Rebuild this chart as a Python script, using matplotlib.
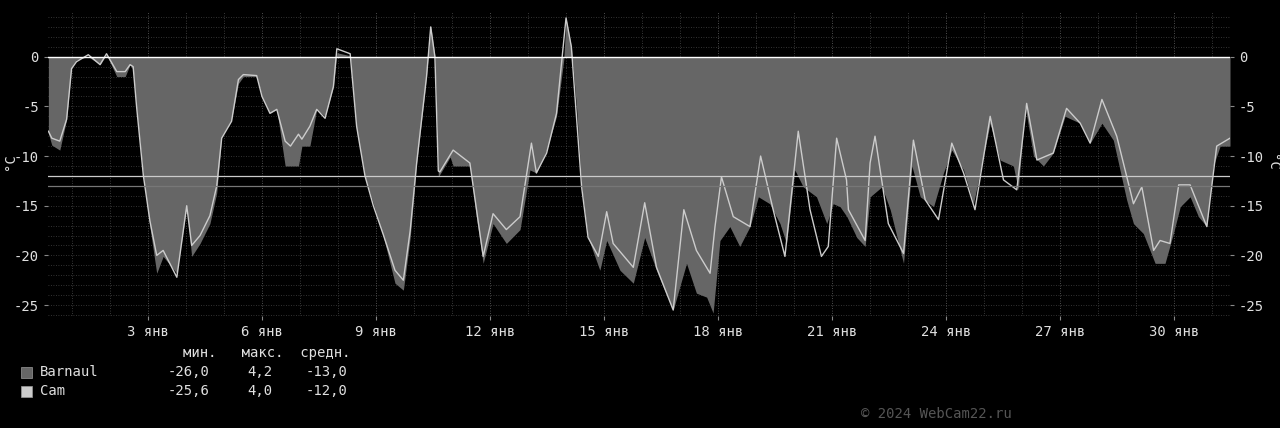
import matplotlib
matplotlib.use("Agg")
import matplotlib.pyplot as plt
import numpy as np

barnaul_t = [0.38,0.47,0.68,0.86,0.99,1.12,1.43,1.74,1.91,2.18,2.40,2.53,2.61,2.70,2.88,3.05,3.23,3.40,3.76,4.02,4.15,4.37,4.63,4.81,4.94,5.20,5.38,5.51,5.86,6.00,6.21,6.39,6.61,6.96,7.05,7.26,7.44,7.66,7.88,7.97,8.32,8.49,8.71,8.93,9.20,9.50,9.72,9.90,10.07,10.33,10.44,10.55,10.64,10.95,
             11.03,11.47,11.64,11.82,12.08,12.43,12.79,13.05,13.22,13.49,13.75,13.94,14.0,14.14,14.28,14.41,14.58,14.89,15.07,15.42,15.77,16.07,16.38,16.56,16.82,16.99,17.17,17.43,17.70,17.87,18.05,18.31,18.57,18.84,19.06,19.36,19.63,19.80,20.02,20.24,20.59,20.86,21.03,21.21,21.39,21.65,21.87,
             22.0,22.31,22.53,22.88,23.10,23.32,23.67,23.93,24.15,24.46,24.72,25.16,25.42,25.77,25.90,26.08,26.30,26.56,26.82,27.13,27.53,27.79,28.10,28.40,28.75,28.93,29.19,29.50,29.76,29.98,30.16,30.42,30.64,30.86,31.03,31.21,31.47]
barnaul_v = [-7.7,-8.9,-9.4,-6.3,-1.0,-0.3,0.0,-0.8,0.2,-2.0,-2.0,-0.8,-1.3,-5.3,-12.1,-17.1,-21.8,-20.1,-21.8,-15.1,-20.1,-18.8,-16.8,-13.7,-8.0,-6.3,-2.7,-2.0,-2.0,-4.0,-5.7,-5.3,-11.0,-11.0,-9.0,-9.0,-5.3,-6.0,-3.0,0.4,0.1,-7.4,-12.1,-14.8,-18.2,-22.8,-23.5,-18.2,-10.7,-2.0,3.1,0.1,-12.1,-10.1,
             -11.0,-11.0,-16.1,-20.8,-16.8,-18.8,-17.4,-11.4,-11.7,-9.4,-6.0,-0.3,3.9,1.0,-5.3,-13.1,-18.2,-21.5,-18.5,-21.5,-22.8,-18.2,-21.5,-23.2,-25.5,-23.2,-20.8,-23.8,-24.2,-25.8,-18.5,-17.1,-19.1,-17.1,-14.1,-14.8,-16.8,-18.8,-11.4,-13.1,-14.1,-16.8,-14.8,-15.1,-16.1,-18.2,-19.1,
             -14.1,-13.1,-15.4,-20.8,-11.0,-14.1,-15.1,-11.7,-9.4,-11.4,-14.8,-6.7,-10.4,-11.0,-13.4,-5.0,-10.0,-11.0,-9.7,-6.0,-6.7,-8.7,-6.7,-8.4,-14.4,-16.8,-17.8,-20.8,-20.8,-17.8,-15.1,-14.1,-16.1,-17.1,-11.0,-9.0,-9.0]

cam_t = [0.38,0.47,0.68,0.86,0.99,1.12,1.43,1.74,1.91,2.18,2.40,2.53,2.61,2.70,2.88,3.05,3.23,3.40,3.76,4.02,4.15,4.37,4.63,4.81,4.94,5.20,5.38,5.51,5.86,6.00,6.21,6.39,6.61,6.75,6.96,7.05,7.26,7.44,7.66,7.88,7.97,8.32,8.49,8.71,8.93,9.20,9.50,9.72,9.90,10.07,10.33,10.44,10.55,10.64,10.68,
         11.03,11.47,11.82,12.08,12.43,12.79,13.09,13.22,13.49,13.75,14.0,14.14,14.41,14.58,14.85,15.07,15.24,15.77,16.07,16.38,16.82,17.10,17.43,17.79,17.92,18.09,18.40,18.84,19.12,19.45,19.76,20.11,20.42,20.72,20.90,21.12,21.38,21.43,
         21.87,22.0,22.13,22.48,22.88,23.14,23.45,23.80,24.15,24.46,24.76,25.16,25.51,25.86,26.12,26.39,26.82,27.17,27.53,27.79,28.10,28.49,28.93,29.15,29.46,29.63,29.89,30.12,30.42,30.86,31.12,31.47]
cam_v = [-7.5,-8.2,-8.5,-6.3,-1.2,-0.5,0.2,-0.8,0.3,-1.5,-1.5,-0.8,-1.0,-5.0,-12.0,-16.5,-20.0,-19.5,-22.2,-15.0,-19.0,-18.0,-16.0,-13.0,-8.2,-6.5,-2.3,-1.8,-1.9,-4.0,-5.7,-5.3,-8.5,-9.0,-7.8,-8.3,-7.0,-5.3,-6.2,-3.0,0.8,0.3,-7.0,-12.0,-15.0,-18.0,-21.5,-22.5,-17.5,-10.7,-2.0,3.0,0.0,-11.5,-11.6,
         -9.4,-10.7,-20.1,-15.8,-17.4,-16.1,-8.7,-11.7,-9.7,-5.7,3.9,1.0,-13.1,-18.2,-20.1,-15.6,-18.8,-21.2,-14.7,-21.2,-25.5,-15.4,-19.5,-21.8,-17.1,-12.1,-16.1,-17.1,-10.0,-15.4,-20.1,-7.5,-15.4,-20.1,-19.1,-8.2,-12.4,-15.4,
         -18.5,-10.7,-8.0,-16.8,-19.8,-8.4,-14.4,-16.4,-8.7,-11.7,-15.4,-6.0,-12.4,-13.4,-4.7,-10.4,-9.7,-5.2,-6.7,-8.7,-4.3,-8.0,-14.8,-13.1,-19.5,-18.5,-18.8,-12.9,-12.9,-17.1,-9.0,-8.2]

tick_days = [3, 6, 9, 12, 15, 18, 21, 24, 27, 30]
tick_labels = [f"{d} янв" for d in tick_days]
names = ["Barnaul", "Cam"]
mins = ["-26,0", "-25,6"]
maxs = ["4,2", "4,0"]
avgs = ["-13,0", "-12,0"]
avg_vals = [-13.0, -12.0]

fg = "#e0e0e0"
fig = plt.figure(figsize=(12.8, 4.28), dpi=100, facecolor="black")
ax = fig.add_axes([48/1280, 1-316/428, (1230-48)/1280, (316-12)/428], facecolor="black")
ax.set_xlim(0.37, 31.47)
ax.set_ylim(-26.1, 4.5)

for y in np.arange(-26, 5, 1):
    ax.axhline(y, color="#444444", lw=0.6, ls=(0, (1, 2)), zorder=0)
for d in range(1, 32):
    ax.axvline(d, color="#666666" if d in tick_days else "#4a4a4a", lw=0.6, ls=(0, (1, 2)), zorder=0)

ax.fill_between(barnaul_t, 0, barnaul_v, color="#666666", lw=0, zorder=1)
ax.plot(cam_t, cam_v, color="#cccccc", lw=1.0, zorder=3)
ax.axhline(0, color="#ffffff", lw=1.0, zorder=4)
ax.axhline(avg_vals[1], color="#cccccc", lw=0.9, zorder=4)
ax.axhline(avg_vals[0], color="#777777", lw=0.9, zorder=4)

ax.set_xticks(tick_days)
ax.set_xticklabels(tick_labels, color=fg, fontsize=10, family="DejaVu Sans Mono")
ax.set_yticks([0, -5, -10, -15, -20, -25])
ax.set_yticklabels(["0", "-5", "-10", "-15", "-20", "-25"], color=fg, fontsize=10, family="DejaVu Sans Mono")
ax.tick_params(axis="both", colors="#888888", labelcolor=fg, length=3, labelright=True, right=True)
for s in ax.spines.values():
    s.set_visible(False)

mono = dict(family="DejaVu Sans Mono", fontsize=10, color=fg)
fig.text(10/1280, 1-162/428, "°C", rotation=90, va="center", ha="center", **mono)
fig.text(1272/1280, 1-162/428, "°C", rotation=270, va="center", ha="center", **mono)
fig.text(183/1280, 1-353/428, "мин.   макс.  средн.", va="center", **mono)
colors = ["#666666", "#cccccc"]
for i, (n, mn, mx, av) in enumerate(zip(names, mins, maxs, avgs)):
    yy = 1 - (372 + 19*i)/428
    fig.patches.append(plt.Rectangle((21/1280, yy-6/428), 11/1280, 11/428, transform=fig.transFigure, facecolor=colors[i], edgecolor="#999999", lw=0.5))
    fig.text(40/1280, yy, n, va="center", **mono)
    fig.text(209/1280, yy, mn, va="center", ha="right", **mono)
    fig.text(272/1280, yy, mx, va="center", ha="right", **mono)
    fig.text(347/1280, yy, av, va="center", ha="right", **mono)
fig.text(1012/1280, 1-414/428, "© 2024 WebCam22.ru", va="center", ha="right", family="DejaVu Sans Mono", fontsize=10, color="#555555")

fig.savefig("out.png", dpi=100, facecolor="black")
